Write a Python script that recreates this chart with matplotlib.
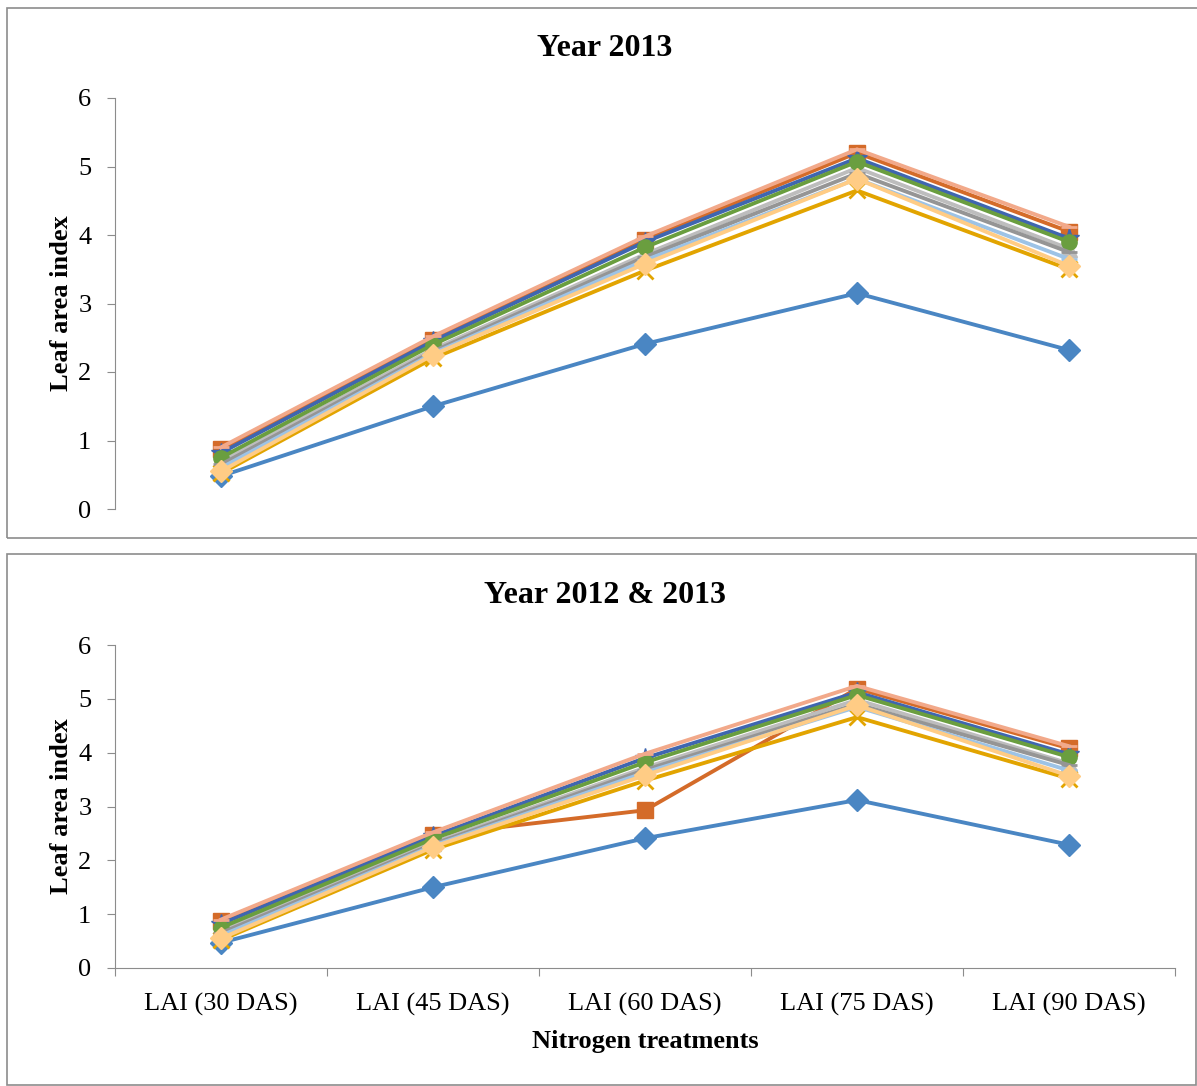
import matplotlib.pyplot as plt
from matplotlib.patches import Rectangle

plt.rcParams['font.family'] = ['Liberation Serif', 'DejaVu Serif']

categories = ["LAI (30 DAS)", "LAI (45 DAS)", "LAI (60 DAS)", "LAI (75 DAS)", "LAI (90 DAS)"]

### series for Year 2013
t1_2013 = [0.48, 1.50, 2.41, 3.15, 2.32]
t2_2013 = [0.87, 2.47, 3.93, 5.20, 4.05]
t3_2013 = [0.70, 2.33, 3.72, 4.98, 3.80]
t4_2013 = [0.52, 2.20, 3.48, 4.65, 3.50]
t5_2013 = [0.82, 2.45, 3.90, 5.12, 3.95]
t6_2013 = [0.75, 2.40, 3.82, 5.07, 3.90]
t7_2013 = [0.65, 2.30, 3.68, 4.90, 3.75]
t8_2013 = [0.60, 2.27, 3.63, 4.82, 3.65]
t9_2013 = [0.90, 2.52, 3.98, 5.25, 4.12]
t10_2013 = [0.55, 2.25, 3.58, 4.82, 3.55]

### series for Year 2012 & 2013 (pooled)
t1_pool = [0.47, 1.50, 2.41, 3.12, 2.29]
t2_pool = [0.87, 2.47, 2.93, 5.19, 4.08]
t3_pool = [0.70, 2.33, 3.72, 4.98, 3.80]
t4_pool = [0.52, 2.20, 3.48, 4.66, 3.52]
t5_pool = [0.82, 2.45, 3.90, 5.12, 3.97]
t6_pool = [0.75, 2.40, 3.82, 5.07, 3.92]
t7_pool = [0.65, 2.30, 3.68, 4.90, 3.77]
t8_pool = [0.60, 2.27, 3.63, 4.85, 3.67]
t9_pool = [0.90, 2.52, 3.98, 5.24, 4.12]
t10_pool = [0.55, 2.25, 3.58, 4.88, 3.57]

colors = ["#4A86C3", "#D46B29", "#BDBDBD", "#E2A400", "#3F66B0",
          "#6A9E3F", "#959595", "#9DC3E6", "#F2A98A", "#FFCC85"]
markers = ["D", "s", "^", "x", "*", "o", "_", "_", "_", "D"]

series_2013 = [t1_2013, t2_2013, t3_2013, t4_2013, t5_2013,
               t6_2013, t7_2013, t8_2013, t9_2013, t10_2013]
series_pool = [t1_pool, t2_pool, t3_pool, t4_pool, t5_pool,
               t6_pool, t7_pool, t8_pool, t9_pool, t10_pool]

fig = plt.figure(figsize=(11.97, 10.86), dpi=100)

### gray frames round each chart
fig.patches.append(Rectangle((7 / 1197, 1 - 538 / 1086), 1.0, 530 / 1086,
                             transform=fig.transFigure, fill=False,
                             edgecolor="#8C8C8C", linewidth=1.2))
fig.patches.append(Rectangle((7 / 1197, 1 - 1085 / 1086), 1189 / 1197, 531 / 1086,
                             transform=fig.transFigure, fill=False,
                             edgecolor="#8C8C8C", linewidth=1.2))

ax1 = fig.add_axes([115 / 1197, 1 - 509 / 1086, 1060 / 1197, 411 / 1086])
ax2 = fig.add_axes([115 / 1197, 1 - 968 / 1086, 1060 / 1197, 323 / 1086])

x = list(range(len(categories)))


def draw(ax, series, title, show_x):
    for ii, vals in enumerate(series):
        ms = 11
        if markers[ii] == "*":
            ms = 15
        if markers[ii] == "x":
            ms = 12
        ax.plot(x, vals, color=colors[ii], marker=markers[ii], markersize=ms,
                linewidth=2.8, markeredgewidth=2 if markers[ii] in ("x", "_") else 1,
                markeredgecolor=colors[ii], solid_joinstyle="miter")
    ax.set_xlim(-0.5, 4.5)
    ax.set_ylim(0, 6)
    ax.set_yticks(range(7))
    ax.tick_params(axis="y", labelsize=19, direction="out", length=6,
                   color="#8C8C8C", pad=11)
    ax.spines["top"].set_visible(False)
    ax.spines["right"].set_visible(False)
    ax.spines["left"].set_color("#8C8C8C")
    ax.set_ylabel("Leaf area index", fontsize=19, fontweight="bold", labelpad=4)
    ax.set_title(title, fontsize=23, fontweight="bold", pad=30, x=0.462)
    if show_x:
        ax.spines["bottom"].set_color("#8C8C8C")
        ax.set_xticks([-0.5, 0.5, 1.5, 2.5, 3.5, 4.5])
        ax.set_xticklabels([])
        ax.set_xticks(x, minor=True)
        ax.set_xticklabels(categories, minor=True, fontsize=19)
        ax.tick_params(axis="x", which="major", direction="out", length=6, color="#8C8C8C")
        ax.tick_params(axis="x", which="minor", length=0, pad=18)
        ax.set_xlabel("Nitrogen treatments", fontsize=19, fontweight="bold", labelpad=10)
    else:
        ax.spines["bottom"].set_visible(False)
        ax.set_xticks([])


draw(ax1, series_2013, "Year 2013", False)
draw(ax2, series_pool, "Year 2012 & 2013", True)

fig.savefig("out.png", dpi=100)
